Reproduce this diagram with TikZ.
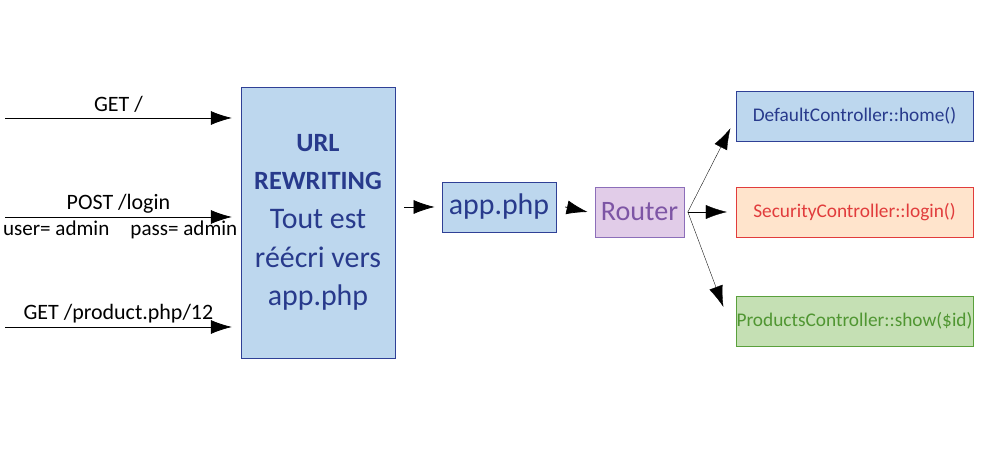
\documentclass[tikz,border=0pt]{standalone}
\usepackage{fontspec}
\setmainfont{Carlito}
\usetikzlibrary{arrows.meta, positioning}
\definecolor{rwfill}{RGB}{189, 215, 238}
\definecolor{rwdraw}{RGB}{47, 64, 150}
\definecolor{rwtext}{RGB}{40, 58, 140}
\definecolor{rtfill}{RGB}{225, 204, 232}
\definecolor{rtdraw}{RGB}{140, 110, 185}
\definecolor{rttext}{RGB}{125, 85, 165}
\definecolor{secfill}{RGB}{255, 228, 204}
\definecolor{secdraw}{RGB}{225, 60, 60}
\definecolor{prodfill}{RGB}{197, 224, 180}
\definecolor{proddraw}{RGB}{90, 160, 60}
\definecolor{prodtext}{RGB}{80, 150, 50}

\begin{document}
\begin{tikzpicture}[x=0.02cm, y=0.02cm,
        arr/.style={-{Latex[length=12pt,width=8pt]}, thin},
        lbl/.style={font=\fontsize{12.5}{14}\selectfont, inner sep=1pt},
        ctrl/.style={draw, thin, minimum width=4.74cm, minimum height=1cm, font=\fontsize{11}{13}\selectfont, inner sep=0pt}]
        \useasboundingbox (0,0) rectangle (1000,455);

        % URL rewriting box
        \node[draw=rwdraw, fill=rwfill, minimum width=3.08cm, minimum height=5.42cm, align=center,
              text=rwtext, font=\fontsize{17}{22}\selectfont] (rewrite) at (318,232.5)
              {{\fontsize{15}{22}\selectfont\bfseries URL}\\{\fontsize{15}{22}\selectfont\bfseries REWRITING}\\Tout est\\réécri vers\\app.php};

        % Incoming requests
        \coordinate (in1) at (5,337);
        \coordinate (in2) at (5,238);
        \coordinate (in3) at (5,128);
        \draw[arr] (in1) -- ([xshift=-5]in1 -| rewrite.west)
              node[midway, above=2pt, lbl] (lbl1) {GET /};
        \draw[arr] (in2) -- ([xshift=-5]in2 -| rewrite.west)
              node[midway, above=1pt, lbl] (lbl2) {POST /login}
              node[midway, below=1pt, lbl, font=\fontsize{12}{14}\selectfont, xshift=1] (lbl2b) {user= admin\quad pass= admin};
        \draw[arr] (in3) -- ([xshift=-5]in3 -| rewrite.west)
              node[midway, above=1pt, lbl] (lbl3) {GET /product.php/12};

        % app.php and router
        \node[draw=rwdraw, fill=rwfill, text=rwtext, minimum width=2.28cm, minimum height=1cm,
              font=\fontsize{17}{20}\selectfont] (app) at (499,248) {app.php};
        \node[draw=rtdraw, fill=rtfill, text=rttext, minimum width=1.74cm, minimum height=1cm,
              font=\fontsize{16}{20}\selectfont] (router) at (639.5,243) {Router};
        \draw[arr] ([xshift=5]rewrite.east |- app) -- ([xshift=-4]app.west);
        \draw[arr] ([xshift=5]app.east) -- ([xshift=-4]router.west);

        % Controllers
        \node[ctrl, draw=rwdraw, fill=rwfill, text=rwtext] (home) at (854.5,339) {DefaultController::home()};
        \node[ctrl, draw=secdraw, fill=secfill, text=secdraw] (login) at (854.5,243) {SecurityController::login()};
        \node[ctrl, draw=proddraw, fill=prodfill, text=prodtext] (show) at (854.5,134) {ProductsController::show(\$id)};

        % Routing
        \coordinate (fork) at ([xshift=2]router.east);
        \draw[arr, very thin] (fork) -- ([xshift=-3,yshift=-7]home.west);
        \draw[arr, very thin] (fork) -- ([xshift=-5]login.west);
        \draw[arr, very thin] (fork) -- ([xshift=-7,yshift=8]show.west);
\end{tikzpicture}
\end{document}
